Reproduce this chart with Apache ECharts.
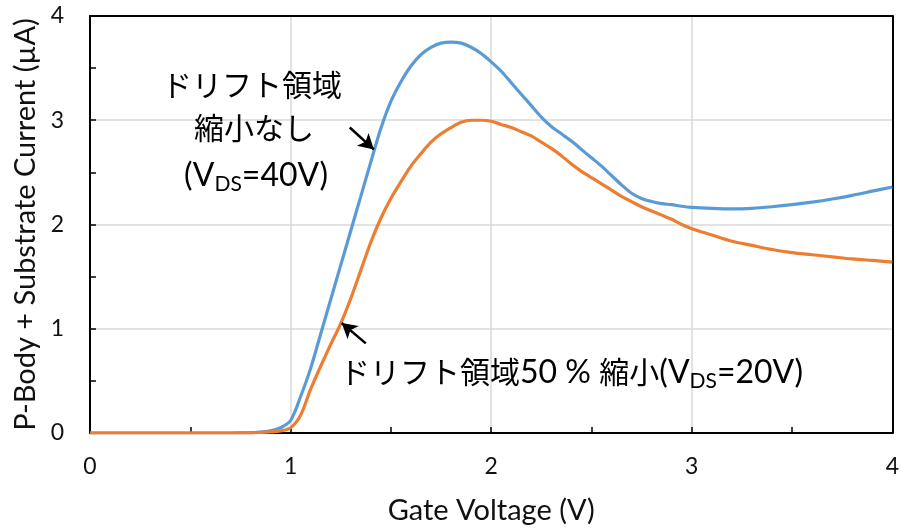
<!DOCTYPE html>
<html>
<head>
<meta charset="utf-8">
<script src="https://cdn.jsdelivr.net/npm/echarts@6/dist/echarts.min.js"></script>
<style>html,body{margin:0;padding:0;background:#fff}#c{width:902px;height:530px}</style>
</head>
<body>
<div id="c"></div>
<script>
// Gate voltage samples (V)
var gateV = [0, 0.1, 0.2, 0.3, 0.4, 0.5, 0.6, 0.7, 0.8, 0.85, 0.9, 0.95, 1.0, 1.05, 1.1, 1.15, 1.2, 1.25, 1.3, 1.35, 1.4, 1.45, 1.5, 1.55, 1.6, 1.65, 1.7, 1.75, 1.8, 1.85, 1.9, 1.95, 2.0, 2.05, 2.1, 2.15, 2.2, 2.25, 2.3, 2.35, 2.4, 2.45, 2.5, 2.55, 2.6, 2.65, 2.7, 2.75, 2.8, 2.85, 2.9, 2.95, 3.0, 3.1, 3.2, 3.3, 3.4, 3.5, 3.6, 3.7, 3.8, 3.9, 4.0];
// P-Body + Substrate current (uA), no drift shrink, VDS=40V
var currentNoShrink = [0, 0, 0, 0, 0, 0, 0, 0, 0.003, 0.01, 0.02, 0.05, 0.12, 0.35, 0.62, 0.95, 1.28, 1.61, 1.94, 2.27, 2.60, 2.92, 3.18, 3.37, 3.52, 3.63, 3.70, 3.74, 3.75, 3.74, 3.70, 3.64, 3.56, 3.47, 3.36, 3.25, 3.14, 3.03, 2.94, 2.87, 2.80, 2.72, 2.64, 2.56, 2.47, 2.38, 2.30, 2.25, 2.22, 2.20, 2.19, 2.175, 2.165, 2.155, 2.15, 2.155, 2.17, 2.19, 2.215, 2.245, 2.28, 2.32, 2.36];
// drift region 50% shrink, VDS=20V
var currentShrink50 = [0, 0, 0, 0, 0, 0, 0, 0, 0.002, 0.005, 0.01, 0.02, 0.05, 0.17, 0.42, 0.64, 0.85, 1.05, 1.29, 1.56, 1.83, 2.06, 2.25, 2.41, 2.56, 2.68, 2.79, 2.87, 2.93, 2.98, 3.00, 3.00, 2.99, 2.96, 2.93, 2.89, 2.85, 2.79, 2.73, 2.66, 2.58, 2.51, 2.45, 2.39, 2.33, 2.27, 2.22, 2.17, 2.13, 2.09, 2.05, 2.00, 1.96, 1.90, 1.84, 1.80, 1.76, 1.73, 1.71, 1.69, 1.67, 1.655, 1.64];
// annotation arrows: [tailX, tailY, tipX, tipY] in data units
var arrowNoShrink = [1.295, 2.93, 1.415, 2.72];
var arrowShrink50 = [1.375, 0.86, 1.255, 1.055];
var xTicks = [0, 1, 2, 3, 4];
var yTicks = [0, 1, 2, 3, 4];

function pairs(xs, ys){ return xs.map(function(x,i){ return [x, ys[i]]; }); }
function arrowLine(a){
  return { symbol:['none','arrow'], symbolSize:[13,15], silent:true, animation:false,
    lineStyle:{color:'#000', width:2.5, type:'solid'}, label:{show:false},
    data:[[{coord:[a[0],a[1]]},{coord:[a[2],a[3]]}]] };
}
var FONT = "Lato, 'Noto Sans CJK JP', sans-serif";
var chart = echarts.init(document.getElementById('c'), null, {renderer:'canvas'});
var axisCommon = {
  type:'value', min:0, max:4, interval:1,
  axisLine:{show:true, lineStyle:{color:'#000', width:2}},
  axisTick:{show:true, inside:true, length:6, lineStyle:{color:'#000', width:1.5}},
  minorTick:{show:true, splitNumber:2, length:6, lineStyle:{color:'#000', width:1.5}},
  splitLine:{show:true, lineStyle:{color:'#d9d9d9', width:1.5}},
  axisLabel:{fontFamily:FONT, fontSize:23, color:'#111'},
  nameTextStyle:{fontFamily:FONT, fontSize:29, color:'#111'}
};
var frameAxis = {
  type:'value', min:0, max:4, interval:1,
  axisLine:{show:true, onZero:false, lineStyle:{color:'#000', width:2}},
  axisTick:{show:false}, axisLabel:{show:false}, splitLine:{show:false}
};
var option = {
  animation:false,
  backgroundColor:'#fff',
  grid:{left:90, right:9, top:16, bottom:97},
  xAxis: [Object.assign({}, axisCommon, {
    name:'Gate Voltage (V)', nameLocation:'middle', nameGap:63,
    axisLabel:Object.assign({}, axisCommon.axisLabel, {margin:22, formatter:function(v){return xTicks.indexOf(v)>=0?String(v):'';}})
  }), Object.assign({}, frameAxis, {position:'top'})],
  yAxis: [Object.assign({}, axisCommon, {
    name:'P-Body + Substrate Current (µA)', nameLocation:'middle', nameGap:46,
    axisLabel:Object.assign({}, axisCommon.axisLabel, {margin:26, formatter:function(v){return yTicks.indexOf(v)>=0?String(v):'';}})
  }), Object.assign({}, frameAxis, {position:'right'})],
  series:[
    {type:'line', name:'no shrink', data:pairs(gateV, currentNoShrink), smooth:0.3, showSymbol:false,
     lineStyle:{color:'#5B9BD5', width:3.2}, itemStyle:{color:'#5B9BD5'}, z:3, markLine:arrowLine(arrowNoShrink)},
    {type:'line', name:'50% shrink', data:pairs(gateV, currentShrink50), smooth:0.3, showSymbol:false,
     lineStyle:{color:'#ED7D31', width:3.2}, itemStyle:{color:'#ED7D31'}, z:4, markLine:arrowLine(arrowShrink50)}
  ],
  graphic:[
    {type:'text', x:252, y:86, z:10, style:{text:'ドリフト領域', fontFamily:FONT, fontSize:30, fill:'#000', align:'center', verticalAlign:'middle'}},
    {type:'text', x:254, y:129, z:10, style:{text:'縮小なし', fontFamily:FONT, fontSize:30, fill:'#000', align:'center', verticalAlign:'middle'}},
    {type:'text', x:256, y:176, z:10, style:{
      text:'{a|(V}{s|DS}{a|=40V)}', fontFamily:FONT, align:'center', verticalAlign:'middle',
      rich:{a:{fontFamily:FONT, fontSize:32, lineHeight:38, color:'#000'},
            s:{fontFamily:FONT, fontSize:21, lineHeight:20, verticalAlign:'bottom', color:'#000'}}}},
    {type:'text', x:340, y:373, z:10, style:{
      text:'{k|ドリフト領域}{a|50 % }{k|縮小}{a|(V}{s|DS}{a|=20V)}', fontFamily:FONT, align:'left', verticalAlign:'middle',
      rich:{k:{fontFamily:FONT, fontSize:30, lineHeight:38, color:'#000'},
            a:{fontFamily:FONT, fontSize:32, lineHeight:38, color:'#000'},
            s:{fontFamily:FONT, fontSize:21, lineHeight:20, verticalAlign:'bottom', color:'#000'}}}}
  ]
};
chart.setOption(option);
</script>
</body>
</html>
